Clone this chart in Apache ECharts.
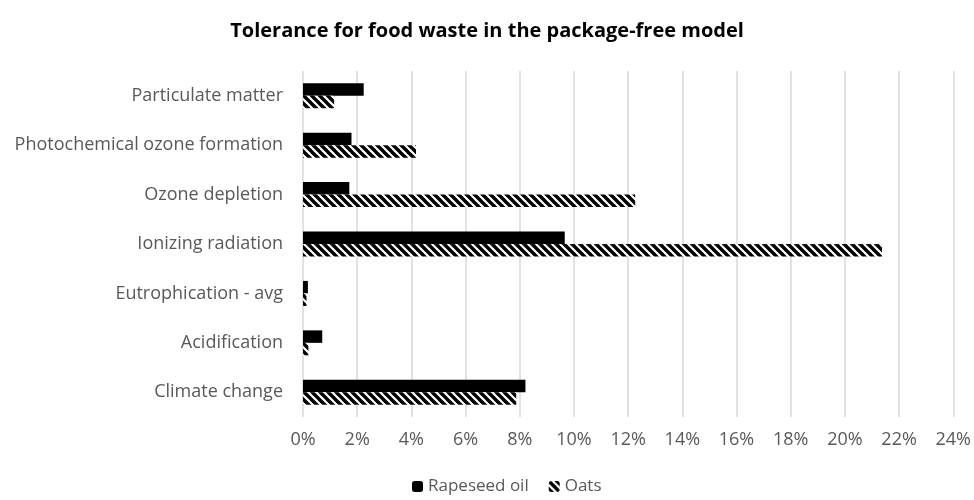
<!DOCTYPE html>
<html><head><meta charset="utf-8">
<script src="https://cdn.jsdelivr.net/npm/echarts@6/dist/echarts.min.js"></script>
<style>html,body{margin:0;padding:0;background:#fff}#c{width:974px;height:500px}</style>
</head><body><div id="c"></div>
<script>
const categories = ['Climate change','Acidification','Eutrophication - avg','Ionizing radiation','Ozone depletion','Photochemical ozone formation','Particulate matter'];
const rapeseed = [0.0821,0.0071,0.0018,0.0966,0.0171,0.0179,0.0224];
const oats = [0.0787,0.0020,0.0013,0.2137,0.1226,0.0417,0.0115];
const xTicks = {min:0,max:0.24,interval:0.02};

const tile = document.createElement('canvas');
tile.width = 8; tile.height = 8;
const g = tile.getContext('2d');
g.fillStyle = '#fff'; g.fillRect(0,0,8,8);
g.strokeStyle = '#000'; g.lineWidth = 3.4;
for (const o of [-8,0,8]) { g.beginPath(); g.moveTo(o-1,-1); g.lineTo(o+9,9); g.stroke(); }

const font = 'Open Sans';
const chart = echarts.init(document.getElementById('c'));
chart.setOption({
  animation:false,
  title:{text:'Tolerance for food waste in the package-free model',left:'center',top:16,
    textStyle:{fontFamily:font,fontWeight:'bold',fontSize:20,color:'#000'}},
  grid:{left:303,right:17,top:71,bottom:83,containLabel:false},
  legend:{data:['Rapeseed oil','Oats'],bottom:0,left:407,itemWidth:11,itemHeight:11,itemGap:20,
    textStyle:{fontFamily:font,fontSize:17,color:'#595959'}},
  xAxis:{type:'value',min:xTicks.min,max:xTicks.max,interval:xTicks.interval,
    axisLine:{show:false},axisTick:{show:false},
    axisLabel:{formatter:v=>Math.round(v*100)+'%',fontFamily:font,fontSize:18,color:'#595959',margin:14},
    splitLine:{lineStyle:{color:'#d9d9d9',width:1.5}}},
  yAxis:{type:'category',data:categories,axisLine:{show:false},axisTick:{show:false},
    axisLabel:{fontFamily:font,fontSize:18,color:'#595959',margin:20}},
  series:[
    {name:'Rapeseed oil',type:'bar',data:rapeseed,barWidth:12.5,barGap:'0%',
      itemStyle:{color:'#000'}},
    {name:'Oats',type:'bar',data:oats,barWidth:12.5,barGap:'0%',
      itemStyle:{color:{image:tile,repeat:'repeat'}}}
  ]
});
</script></body></html>
